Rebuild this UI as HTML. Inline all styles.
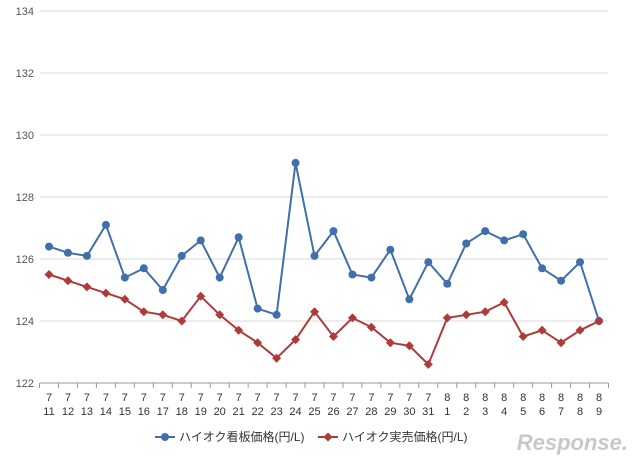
<!DOCTYPE html>
<html><head><meta charset="utf-8"><style>
body{margin:0;background:#fff;width:640px;height:463px;overflow:hidden;font-family:"Liberation Sans","Noto Sans CJK JP",sans-serif}
</style></head><body>
<svg id="c" width="640" height="463" xmlns="http://www.w3.org/2000/svg"></svg>
<script>
const months=[7,7,7,7,7,7,7,7,7,7,7,7,7,7,7,7,7,7,7,7,7,8,8,8,8,8,8,8,8,8];
const days=[11,12,13,14,15,16,17,18,19,20,21,22,23,24,25,26,27,28,29,30,31,1,2,3,4,5,6,7,8,9];
const signPrice=[126.4,126.2,126.1,127.1,125.4,125.7,125.0,126.1,126.6,125.4,126.7,124.4,124.2,129.1,126.1,126.9,125.5,125.4,126.3,124.7,125.9,125.2,126.5,126.9,126.6,126.8,125.7,125.3,125.9,124.0];
const salePrice=[125.5,125.3,125.1,124.9,124.7,124.3,124.2,124.0,124.8,124.2,123.7,123.3,122.8,123.4,124.3,123.5,124.1,123.8,123.3,123.2,122.6,124.1,124.2,124.3,124.6,123.5,123.7,123.3,123.7,124.0];
const yTicks=[122,124,126,128,130,132,134];
const svg=document.getElementById('c');const NS='http://www.w3.org/2000/svg';
function mk(t,a,p){const e=document.createElementNS(NS,t);for(const k in a)e.setAttribute(k,a[k]);(p||svg).appendChild(e);return e;}
const y=v=>383-(v-122)*31;
const step=(599-49)/(days.length-1);
const x=i=>49+i*step;
yTicks.forEach(t=>{
 const g=mk('line',{x1:40,x2:608,y1:y(t),y2:y(t),stroke:t===122?'#999':'#d9d9d9','stroke-width':1});
 
 const l=mk('text',{x:34,y:y(t)+4,'text-anchor':'end','font-size':11,fill:'#555'});l.textContent=t;
 
});
for(let i=0;i<=days.length;i++){const tx=x(i)-step/2;const tk=mk('line',{x1:tx,x2:tx,y1:383,y2:388,stroke:'#999'});
 }
days.forEach((d,i)=>{
 const a=mk('text',{x:x(i),y:401,'text-anchor':'middle','font-size':11,fill:'#333'});a.textContent=months[i];
 
 const b=mk('text',{x:x(i),y:415,'text-anchor':'middle','font-size':11,fill:'#333'});b.textContent=d;
 
});
function series(vals,col,shape,name){
 const p=mk('polyline',{points:vals.map((v,i)=>x(i)+','+y(v)).join(' '),fill:'none',stroke:col,'stroke-width':2});
 
 vals.forEach((v,i)=>{let m;
  if(shape==='c')m=mk('circle',{cx:x(i),cy:y(v),r:4,fill:col});
  else m=mk('polygon',{points:`${x(i)},${y(v)-4.5} ${x(i)+4.5},${y(v)} ${x(i)},${y(v)+4.5} ${x(i)-4.5},${y(v)}`,fill:col});
  });
}
series(signPrice,'#3f6fad','c','sign-price');
series(salePrice,'#b03a3a','d','sale-price');
// legend
const lg=mk('g',{});
mk('line',{x1:155,x2:175,y1:437,y2:437,stroke:'#3f6fad','stroke-width':2},lg);
mk('circle',{cx:165,cy:437,r:4,fill:'#3f6fad'},lg);
let t1=mk('text',{x:179,y:441,'font-size':12,fill:'#333'},lg);t1.textContent='ハイオク看板価格(円/L)';
mk('line',{x1:318,x2:338,y1:437,y2:437,stroke:'#b03a3a','stroke-width':2},lg);
mk('polygon',{points:'328,432.5 332.5,437 328,441.5 323.5,437',fill:'#b03a3a'},lg);
let t2=mk('text',{x:342,y:441,'font-size':12,fill:'#333'},lg);t2.textContent='ハイオク実売価格(円/L)';
const w=mk('text',{x:628,y:450,'text-anchor':'end','font-size':22,'font-style':'italic','font-weight':'bold',fill:'#c8c8c8'});w.textContent='Response.';

</script>
</body></html>
